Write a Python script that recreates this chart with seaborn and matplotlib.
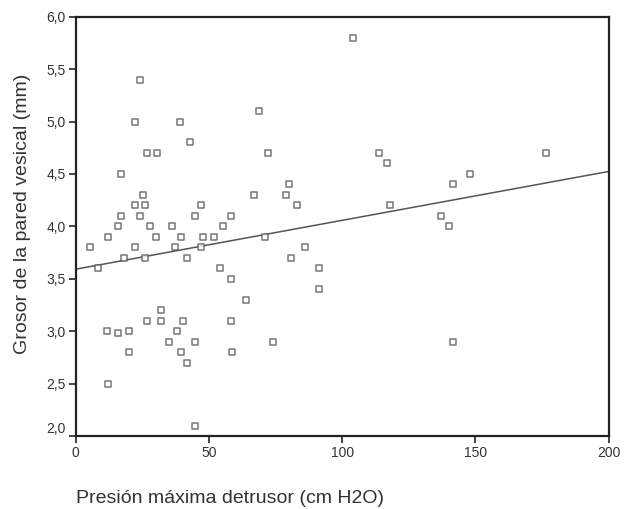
import pandas as pd
import matplotlib
matplotlib.use("Agg")
import matplotlib.pyplot as plt
import matplotlib.transforms as mtransforms
from matplotlib.ticker import FuncFormatter
import seaborn as sns

# Values
presion = [5.3, 8.3, 12.0, 11.9, 12.0, 16.0, 16.0, 17.0, 17.0, 18.1,
           20.1, 20.1, 22.1, 22.1, 22.1, 24.2, 24.2, 25.3, 25.9, 25.9,
           26.8, 26.8, 27.9, 30.0, 30.7, 32.0, 32.0, 35.1, 36.1, 37.2,
           38.2, 39.1, 39.4, 40.3, 39.4, 41.6, 41.6, 42.9, 44.8, 44.8,
           44.8, 46.9, 46.9, 47.8, 52.0, 54.1, 55.1, 58.3, 58.3, 58.3,
           58.7, 64.0, 67.0, 68.7, 71.1, 72.2, 74.1, 78.9, 80.0, 80.8,
           83.1, 86.1, 91.2, 91.2, 104.1, 113.8, 116.8, 118.0, 136.9, 140.1,
           141.6, 141.6, 147.8, 176.6]
grosor = [3.8, 3.6, 3.9, 3.0, 2.5, 4.0, 2.98, 4.1, 4.5, 3.7,
          3.0, 2.8, 4.2, 3.8, 5.0, 5.4, 4.1, 4.3, 4.2, 3.7,
          4.7, 3.1, 4.0, 3.9, 4.7, 3.2, 3.1, 2.9, 4.0, 3.8,
          3.0, 5.0, 3.9, 3.1, 2.8, 3.7, 2.7, 4.8, 4.1, 2.9,
          2.1, 4.2, 3.8, 3.9, 3.9, 3.6, 4.0, 4.1, 3.5, 3.1,
          2.8, 3.3, 4.3, 5.1, 3.9, 4.7, 2.9, 4.3, 4.4, 3.7,
          4.2, 3.8, 3.6, 3.4, 5.8, 4.7, 4.6, 4.2, 4.1, 4.0,
          4.4, 2.9, 4.5, 4.7]

x_ticks = [0, 50, 100, 150, 200]
y_ticks = [2.0, 2.5, 3.0, 3.5, 4.0, 4.5, 5.0, 5.5, 6.0]

df = pd.DataFrame({"presion": presion, "grosor": grosor})

sns.set_style("ticks")
plt.rcParams["font.family"] = ["Liberation Sans", "DejaVu Sans"]

fig = plt.figure(figsize=(6.25, 5.09), dpi=100)
ax = fig.add_axes([0.121, 0.1434, 0.853, 0.8238])
ax.set_xlim(0, 200)
ax.set_ylim(2.0, 6.0)

sns.regplot(data=df, x="presion", y="grosor", ax=ax, ci=None, truncate=False,
            marker="s",
            scatter_kws={"s": 20, "facecolors": "white", "edgecolors": "#555555",
                         "linewidths": 1.1, "zorder": 3},
            line_kws={"color": "#555555", "linewidth": 1.1, "zorder": 2})

ax.set_xlim(0, 200)
ax.set_ylim(2.0, 6.0)
ax.set_xticks(x_ticks)
ax.set_yticks(y_ticks)
ax.yaxis.set_major_formatter(FuncFormatter(lambda v, p: f"{v:.1f}".replace(".", ",")))
ax.tick_params(axis="both", labelsize=10, length=5, width=1.2, color="#222222",
               labelcolor="#333333", pad=2)

for side in ["left", "right", "top", "bottom"]:
    ax.spines[side].set_visible(True)
    ax.spines[side].set_linewidth(1.6)
    ax.spines[side].set_color("#222222")

ax.set_xlabel("Presión máxima detrusor (cm H2O)", fontsize=14, color="#333333",
              ha="left", va="center")
ax.xaxis.set_label_coords(0.0, -0.15)
ax.set_ylabel("Grosor de la pared vesical (mm)", fontsize=14, color="#333333",
              va="center")
ax.yaxis.set_label_coords(-0.099, 0.53)

# bottom y label sits a bit above its tick, as in the original
lab = ax.get_yticklabels()[0]
lab.set_transform(lab.get_transform() + mtransforms.ScaledTranslation(0, 9 / 100, fig.dpi_scale_trans))

fig.savefig("out.png", dpi=100, facecolor="white")
